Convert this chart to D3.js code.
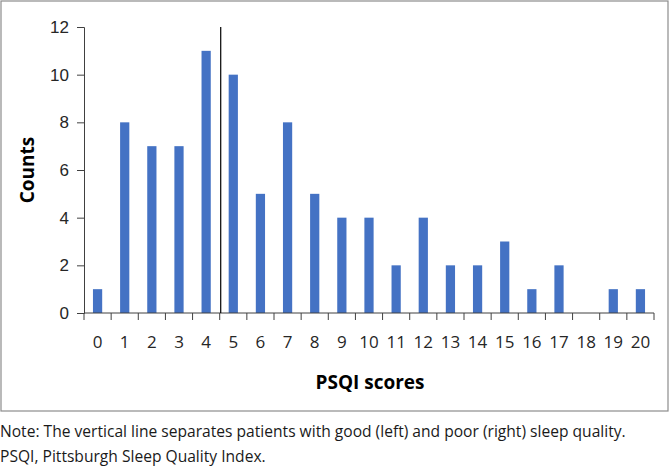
<!DOCTYPE html>
<html>
<head>
<meta charset="utf-8">
<script src="https://cdn.jsdelivr.net/npm/d3@7"></script>
<style>
  body { margin: 0; background: #fff; }
  svg { display: block; font-family: "Open Sans", sans-serif; }
</style>
</head>
<body>
<svg id="plot"></svg>
<script>
var scores = ["0","1","2","3","4","5","6","7","8","9","10","11","12","13","14","15","16","17","18","19","20"];
var counts = [1, 8, 7, 7, 11, 10, 5, 8, 5, 4, 4, 2, 4, 2, 2, 3, 1, 2, 0, 1, 1];
var yTicks = [0, 2, 4, 6, 8, 10, 12];
var cutoff = "5"; // first "poor" score
var noteLines = [
  "Note: The vertical line separates patients with good (left) and poor (right) sleep quality.",
  "PSQI, Pittsburgh Sleep Quality Index."
];

var svg = d3.select("#plot").attr("width", 670).attr("height", 466);

var margin = {top: 27, right: 16, bottom: 153, left: 84},
  width = 670 - margin.left - margin.right,
  height = 466 - margin.top - margin.bottom;

// outer frame
svg.append("rect")
  .attr("x", 1).attr("y", 1)
  .attr("width", 667).attr("height", 410)
  .attr("fill", "none")
  .attr("stroke", "#8c8c8c")
  .attr("stroke-width", 1.2);

var g = svg.append("g")
  .attr("transform", "translate(" + margin.left + "," + margin.top + ")");

var x = d3.scaleBand()
  .domain(scores)
  .range([0, width])
  .paddingInner(0.66)
  .paddingOuter(0.33);

var y = d3.scaleLinear()
  .domain([0, 12])
  .range([height, 0]);

// bars
g.selectAll("rect.bar")
  .data(counts)
  .enter()
  .append("rect")
  .attr("class", "bar")
  .attr("x", function(d, i){ return x(scores[i]) })
  .attr("y", function(d){ return y(d) })
  .attr("width", x.bandwidth())
  .attr("height", function(d){ return height - y(d) })
  .attr("fill", "#4472c4");

// Y axis
var yAxis = g.append("g")
  .call(d3.axisLeft(y).tickValues(yTicks).tickSizeOuter(0).tickSize(7).tickPadding(8));
yAxis.select(".domain").attr("stroke", "#404040");
yAxis.selectAll(".tick line").attr("stroke", "#404040");
yAxis.selectAll("text")
  .attr("fill", "#262626")
  .style("font-size", "17px");

// X axis: ticks at category boundaries
var step = x.step();
var xAxis = g.append("g")
  .attr("transform", "translate(0," + height + ")");
xAxis.append("line")
  .attr("x1", 0).attr("x2", width)
  .attr("stroke", "#404040");
xAxis.selectAll("line.tk")
  .data(d3.range(scores.length + 1))
  .enter()
  .append("line")
  .attr("class", "tk")
  .attr("x1", function(i){ return i * step })
  .attr("x2", function(i){ return i * step })
  .attr("y1", 0).attr("y2", 7)
  .attr("stroke", "#404040");
xAxis.selectAll("text")
  .data(scores)
  .enter()
  .append("text")
  .attr("x", function(d){ return x(d) + x.bandwidth() / 2 })
  .attr("y", 35)
  .attr("text-anchor", "middle")
  .attr("fill", "#262626")
  .style("font-size", "17px")
  .text(function(d){ return d });

// separator line between good and poor sleep
var cx = x(cutoff) - x.step() * x.paddingInner() / 2 + 1;
g.append("line")
  .attr("x1", cx).attr("x2", cx)
  .attr("y1", y(12)).attr("y2", y(0))
  .attr("stroke", "#000")
  .attr("stroke-width", 1.2);

// axis titles
svg.append("text")
  .attr("transform", "translate(34," + (margin.top + height / 2) + ") rotate(-90)")
  .attr("text-anchor", "middle")
  .attr("fill", "#000")
  .style("font-size", "19px")
  .style("font-weight", "bold")
  .text("Counts");

svg.append("text")
  .attr("x", 370).attr("y", 389)
  .attr("text-anchor", "middle")
  .attr("fill", "#000")
  .style("font-size", "19px")
  .style("font-weight", "bold")
  .text("PSQI scores");

// note below frame
svg.selectAll("text.note")
  .data(noteLines)
  .enter()
  .append("text")
  .attr("class", "note")
  .attr("x", 0)
  .attr("y", function(d, i){ return 437 + i * 25 })
  .attr("fill", "#1a1a1a")
  .style("font-size", "15.6px")
  .text(function(d){ return d });
</script>
</body>
</html>
